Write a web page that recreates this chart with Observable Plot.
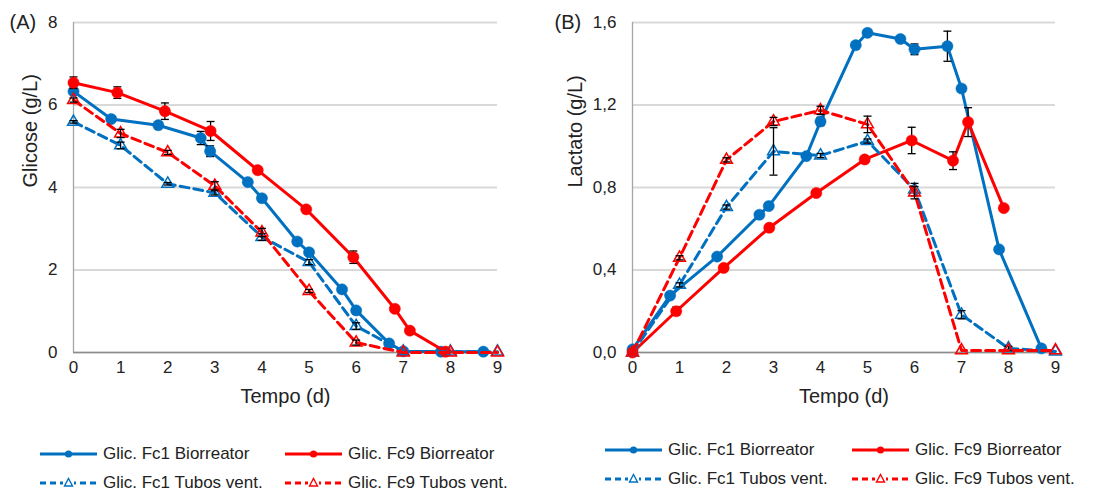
<!DOCTYPE html>
<html><head><meta charset="utf-8">
<script src="https://cdn.jsdelivr.net/npm/d3@7"></script>
<script src="https://cdn.jsdelivr.net/npm/@observablehq/plot@0.6"></script>
<style>
body{margin:0;background:#fff;font-family:Arial,"Liberation Sans",sans-serif;}
#wrap{position:relative;width:1116px;height:493px;overflow:hidden;}
.panel{position:absolute;top:0;height:493px;}
.leg{position:absolute;font-size:17px;color:#222;white-space:nowrap;display:flex;align-items:center;transform:translateY(-50%);}
.leg svg{margin-right:6px;flex:none}
</style></head><body><div id="wrap"></div>
<script>
// ---- data ----
const xTicks = [0,1,2,3,4,5,6,7,8,9];
const gluTicks = [0,2,4,6,8];
const lacTicks = [0,0.4,0.8,1.2,1.6];
const seriesNames = ["Glic. Fc1 Biorreator","Glic. Fc9 Biorreator","Glic. Fc1 Tubos vent.","Glic. Fc9 Tubos vent."];

const fc1BioDays = [0,0.8,1.8,2.7,2.9,3.7,4.0,4.75,5.0,5.7,6.0,6.7,7.0,7.8,8.7];
const fc9BioDays = [0,0.93,1.94,2.91,3.91,4.94,5.94,6.82,7.14,7.9];
const tubDays = [0,1,2,3,4,5,6,7,8,9];

// Glucose (g/L)
const gluFc1Bio = [6.33,5.66,5.51,5.2,4.88,4.13,3.74,2.69,2.43,1.53,1.02,0.22,0.03,0.02,0.02];
const gluFc1BioErr = [0.05,0.03,0.03,0.16,0.13,0.03,0.03,0.03,0.03,0.03,0.03,0.02,0,0,0];
const gluFc9Bio = [6.54,6.30,5.85,5.37,4.42,3.47,2.31,1.06,0.53,0.02];
const gluFc9BioErr = [0.14,0.14,0.2,0.23,0.03,0.03,0.15,0.05,0.03,0];
const gluFc1Tub = [5.59,5.02,4.09,3.87,2.80,2.19,0.64,0.02,0.02,0.02];
const gluFc1TubErr = [0.03,0.08,0.03,0.05,0.08,0.06,0.08,0,0,0];
const gluFc9Tub = [6.12,5.31,4.85,4.04,2.91,1.49,0.24,0.0,0.0,0.0];
const gluFc9TubErr = [0.05,0.1,0.05,0.1,0.1,0.04,0.06,0,0,0];

// Lactate (g/L)
const lacFc1Bio = [0.015,0.276,0.465,0.668,0.71,0.952,1.12,1.49,1.55,1.52,1.47,1.485,1.28,0.50,0.02];
const lacFc1BioErr = [0,0.005,0.005,0.01,0.005,0.005,0.02,0.005,0.005,0.005,0.026,0.073,0.005,0.005,0];
const lacFc9Bio = [0.0,0.20,0.41,0.605,0.773,0.936,1.028,0.93,1.117,0.70];
const lacFc9BioErr = [0,0.02,0.01,0.005,0.005,0.005,0.064,0.043,0.07,0];
const lacFc1Tub = [0.0,0.328,0.705,0.975,0.955,1.025,0.79,0.183,0.02,0.005];
const lacFc1TubErr = [0,0.01,0.01,0.115,0.01,0.01,0.03,0.02,0.01,0];
const lacFc9Tub = [0.0,0.459,0.934,1.12,1.174,1.106,0.775,0.01,0.01,0.01];
const lacFc9TubErr = [0,0.01,0.01,0.02,0.02,0.04,0.03,0,0,0];

const BLUE = "#0070C0", RED = "#FF0000";

function rows(days, vals, errs){ return days.map((x,i)=>({x, y:vals[i], e:errs[i]})); }

function errorMarks(data){
  const eb = data.filter(d=>d.e>0);
  const cap = 0.085;
  return [
    Plot.ruleX(eb, {x:"x", y1:d=>d.y-d.e, y2:d=>d.y+d.e, stroke:"#000", strokeWidth:1.3}),
    Plot.link(eb, {x1:d=>d.x-cap, x2:d=>d.x+cap, y1:d=>d.y+d.e, y2:d=>d.y+d.e, stroke:"#000", strokeWidth:1.3}),
    Plot.link(eb, {x1:d=>d.x-cap, x2:d=>d.x+cap, y1:d=>d.y-d.e, y2:d=>d.y-d.e, stroke:"#000", strokeWidth:1.3})
  ];
}

function seriesMarks(data, color, dashed){
  const marks = [];
  marks.push(Plot.line(data, {x:"x", y:"y", stroke:color, strokeWidth:3, strokeDasharray: dashed ? "9,5" : null, strokeLinejoin:"round"}));
  if (dashed) {
    marks.push(Plot.dot(data, {x:"x", y:"y", symbol:"triangle", r:4.4, stroke:color, fill:"none", strokeWidth:1.5}));
    marks.push(...errorMarks(data));
  } else {
    marks.push(...errorMarks(data));
    marks.push(Plot.dot(data, {x:"x", y:"y", r:5.6, fill:color, stroke:color, strokeWidth:0.5}));
  }
  return marks;
}

function chart({width, marginLeft, marginRight, yDomain, yTicks, yFormat, yLabel, labelDx, panel, panelDx, s}){
  return Plot.plot({
    width, height:425, marginLeft, marginRight, marginTop:22, marginBottom:73,
    x:{domain:[0,9]},
    y:{domain:yDomain},
    style:{fontFamily:"Arial, 'Liberation Sans', sans-serif", fontSize:"17px", color:"#222", background:"white", overflow:"visible"},
    marks:[
      Plot.gridY(yTicks, {stroke:"#d9d9d9", strokeOpacity:1, strokeWidth:2}),
      Plot.ruleY([yDomain[0]], {stroke:"#8c8c8c", strokeWidth:1.6}),
      Plot.ruleX([0], {stroke:"#a6a6a6", strokeWidth:1.3}),
      Plot.axisX({ticks:xTicks, tickSize:0, tickPadding:8, label:null, fontSize:17, tickFormat:d=>String(d)}),
      Plot.axisY({ticks:yTicks, tickSize:0, tickPadding:16, label:null, fontSize:17, tickFormat:yFormat}),
      Plot.text(["Tempo (d)"], {frameAnchor:"bottom", dy:50, fontSize:20, fill:"#222"}),
      Plot.text([yLabel], {frameAnchor:"left", rotate:-90, dx:labelDx, fontSize:20, fill:"#222"}),
      Plot.text([panel], {frameAnchor:"top-left", textAnchor:"start", lineAnchor:"middle", dx:panelDx, dy:0, fontSize:20, fill:"#222"}),
      ...seriesMarks(s[0], BLUE, false),
      ...seriesMarks(s[1], RED, false),
      ...seriesMarks(s[2], BLUE, true),
      ...seriesMarks(s[3], RED, true)
    ]
  });
}

function swatch(color, dashed){
  const ns = "http://www.w3.org/2000/svg";
  const svg = document.createElementNS(ns, "svg");
  svg.setAttribute("width", 57); svg.setAttribute("height", 14);
  const l = document.createElementNS(ns, "line");
  l.setAttribute("x1", 0); l.setAttribute("x2", 57); l.setAttribute("y1", 7); l.setAttribute("y2", 7);
  l.setAttribute("stroke", color); l.setAttribute("stroke-width", 3);
  if (dashed) l.setAttribute("stroke-dasharray", "6,4");
  svg.appendChild(l);
  if (dashed) {
    const bg = document.createElementNS(ns, "rect");
    bg.setAttribute("x", 23); bg.setAttribute("y", 1); bg.setAttribute("width", 11); bg.setAttribute("height", 12); bg.setAttribute("fill", "white");
    svg.appendChild(bg);
    const p = document.createElementNS(ns, "path");
    p.setAttribute("d", "M28.5,2.5 L32.5,10 L24.5,10 Z");
    p.setAttribute("fill", "white"); p.setAttribute("stroke", color); p.setAttribute("stroke-width", 1.4);
    svg.appendChild(p);
  } else {
    const c = document.createElementNS(ns, "circle");
    c.setAttribute("cx", 28.5); c.setAttribute("cy", 7); c.setAttribute("r", 3.6); c.setAttribute("fill", color);
    svg.appendChild(c);
  }
  return svg;
}

function legend(panelEl, x1, x2, y1, y2){
  const pos = [[x1,y1],[x2,y1],[x1,y2],[x2,y2]];
  const cols = [BLUE, RED, BLUE, RED];
  seriesNames.forEach((name,i)=>{
    const d = document.createElement("div");
    d.className = "leg";
    d.style.left = pos[i][0] + "px";
    d.style.top = pos[i][1] + "px";
    d.appendChild(swatch(cols[i], i>=2));
    const t = document.createElement("span"); t.textContent = name;
    d.appendChild(t);
    panelEl.appendChild(d);
  });
}

const wrap = document.getElementById("wrap");

const pA = document.createElement("div"); pA.className="panel"; pA.style.left="0px"; pA.style.width="552px";
pA.appendChild(chart({
  width:552, marginLeft:73, marginRight:55, yDomain:[0,8], yTicks:gluTicks, yFormat:d=>String(d),
  yLabel:"Glicose (g/L)", labelDx:-43, panel:"(A)", panelDx:-64,
  s:[rows(fc1BioDays,gluFc1Bio,gluFc1BioErr), rows(fc9BioDays,gluFc9Bio,gluFc9BioErr), rows(tubDays,gluFc1Tub,gluFc1TubErr), rows(tubDays,gluFc9Tub,gluFc9TubErr)]
}));
legend(pA, 40, 285, 454, 483);
wrap.appendChild(pA);

const pB = document.createElement("div"); pB.className="panel"; pB.style.left="552px"; pB.style.width="564px";
pB.appendChild(chart({
  width:564, marginLeft:80, marginRight:61, yDomain:[0,1.6], yTicks:lacTicks, yFormat:d=>d.toFixed(1).replace(".",","),
  yLabel:"Lactato (g/L)", labelDx:-57, panel:"(B)", panelDx:-78,
  s:[rows(fc1BioDays,lacFc1Bio,lacFc1BioErr), rows(fc9BioDays,lacFc9Bio,lacFc9BioErr), rows(tubDays,lacFc1Tub,lacFc1TubErr), rows(tubDays,lacFc9Tub,lacFc9TubErr)]
}));
legend(pB, 53, 300, 450, 479);
wrap.appendChild(pB);
</script>
</body></html>
